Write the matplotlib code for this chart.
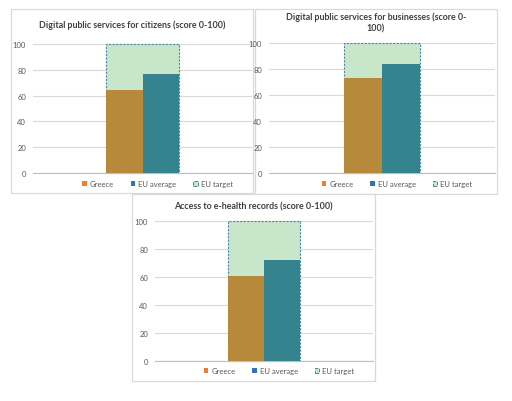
import matplotlib
matplotlib.use('Agg')
import matplotlib.pyplot as plt
from matplotlib.patches import Patch, Rectangle

plt.rcParams['font.family'] = ['Lato', 'DejaVu Sans']

titles = ['Digital public services for citizens (score 0-100)',
          'Digital public services for businesses (score 0-\n100)',
          'Access to e-health records (score 0-100)']
greece = [64.6, 73.3, 60.7]
eu_average = [76.8, 83.8, 71.9]
eu_target = [100, 100, 100]
yticks = [0, 20, 40, 60, 80, 100]
legend_labels = ['Greece', 'EU average', 'EU target']

W, H = 512, 402
c_greece_bar = '#B7893A'
c_eu_bar = '#34838E'
c_greece_leg = '#ED7D31'
c_eu_leg = '#2E75B6'
c_target = '#C8E6C9'
c_target_edge = '#4A86A8'
c_text = '#595959'
c_grid = '#D9D9D9'

# panel boxes and plot areas in pixels (left, top, right, bottom)
boxes = [(11, 10, 253, 194), (255, 10, 497, 195), (132, 195, 375, 382)]
plots = [(33, 45, 252, 174), (269, 44, 495, 174), (155, 222, 373, 362)]
title_y = [25, 23, 207]
legend_y = [185, 185, 372]


def fx(x):
    return x / W


def fy(y):
    return 1 - y / H


fig = plt.figure(figsize=(W / 100, H / 100), dpi=100)

for i in range(3):
    l, t, r, b = boxes[i]
    fig.add_artist(Rectangle((fx(l), fy(b)), fx(r - l), (b - t) / H,
                             transform=fig.transFigure, facecolor='white',
                             edgecolor=c_grid, linewidth=0.9, zorder=0))

for i in range(3):
    l, t, r, b = plots[i]
    ax = fig.add_axes([fx(l), fy(b), fx(r - l), (b - t) / H])
    ax.set_facecolor('none')
    ax.bar(0, eu_target[i], width=1.0, color=c_target, edgecolor=c_target_edge,
           linestyle=(0, (2, 1.2)), linewidth=0.8, zorder=2, clip_on=False)
    ax.bar(-0.25, greece[i], width=0.5, color=c_greece_bar, zorder=3)
    ax.bar(0.25, eu_average[i], width=0.5, color=c_eu_bar, zorder=3)
    ax.set_xlim(-1.5, 1.5)
    ax.set_ylim(0, 100)
    ax.set_yticks(yticks)
    ax.set_xticks([])
    ax.grid(axis='y', color=c_grid, linewidth=0.8, zorder=0)
    ax.set_axisbelow(True)
    for s in ['top', 'right', 'left']:
        ax.spines[s].set_visible(False)
    ax.spines['bottom'].set_color('#BFBFBF')
    ax.spines['bottom'].set_linewidth(0.8)
    ax.tick_params(axis='y', length=0, pad=5, labelsize=5.5, labelcolor=c_text)

    bl, bt, br, bb = boxes[i]
    fig.text(fx((bl + br) / 2), fy(title_y[i]), titles[i], ha='center', va='center',
             fontsize=6.4, fontweight='bold', color='#404040', linespacing=1.35)

    handles = [Patch(facecolor=c_greece_leg, edgecolor='none'),
               Patch(facecolor=c_eu_leg, edgecolor='none'),
               Patch(facecolor=c_target, edgecolor=c_target_edge, linestyle='--', linewidth=0.7)]
    cx = (l + r) / 2 + 15
    ax.legend(handles, legend_labels, ncol=3, frameon=False, loc='center',
              bbox_to_anchor=(fx(cx), fy(legend_y[i])), bbox_transform=fig.transFigure,
              fontsize=5.5, labelcolor=c_text, handlelength=0.6, handleheight=0.6,
              handletextpad=0.4, columnspacing=2.2, borderpad=0)

fig.savefig('out.png', dpi=100)
